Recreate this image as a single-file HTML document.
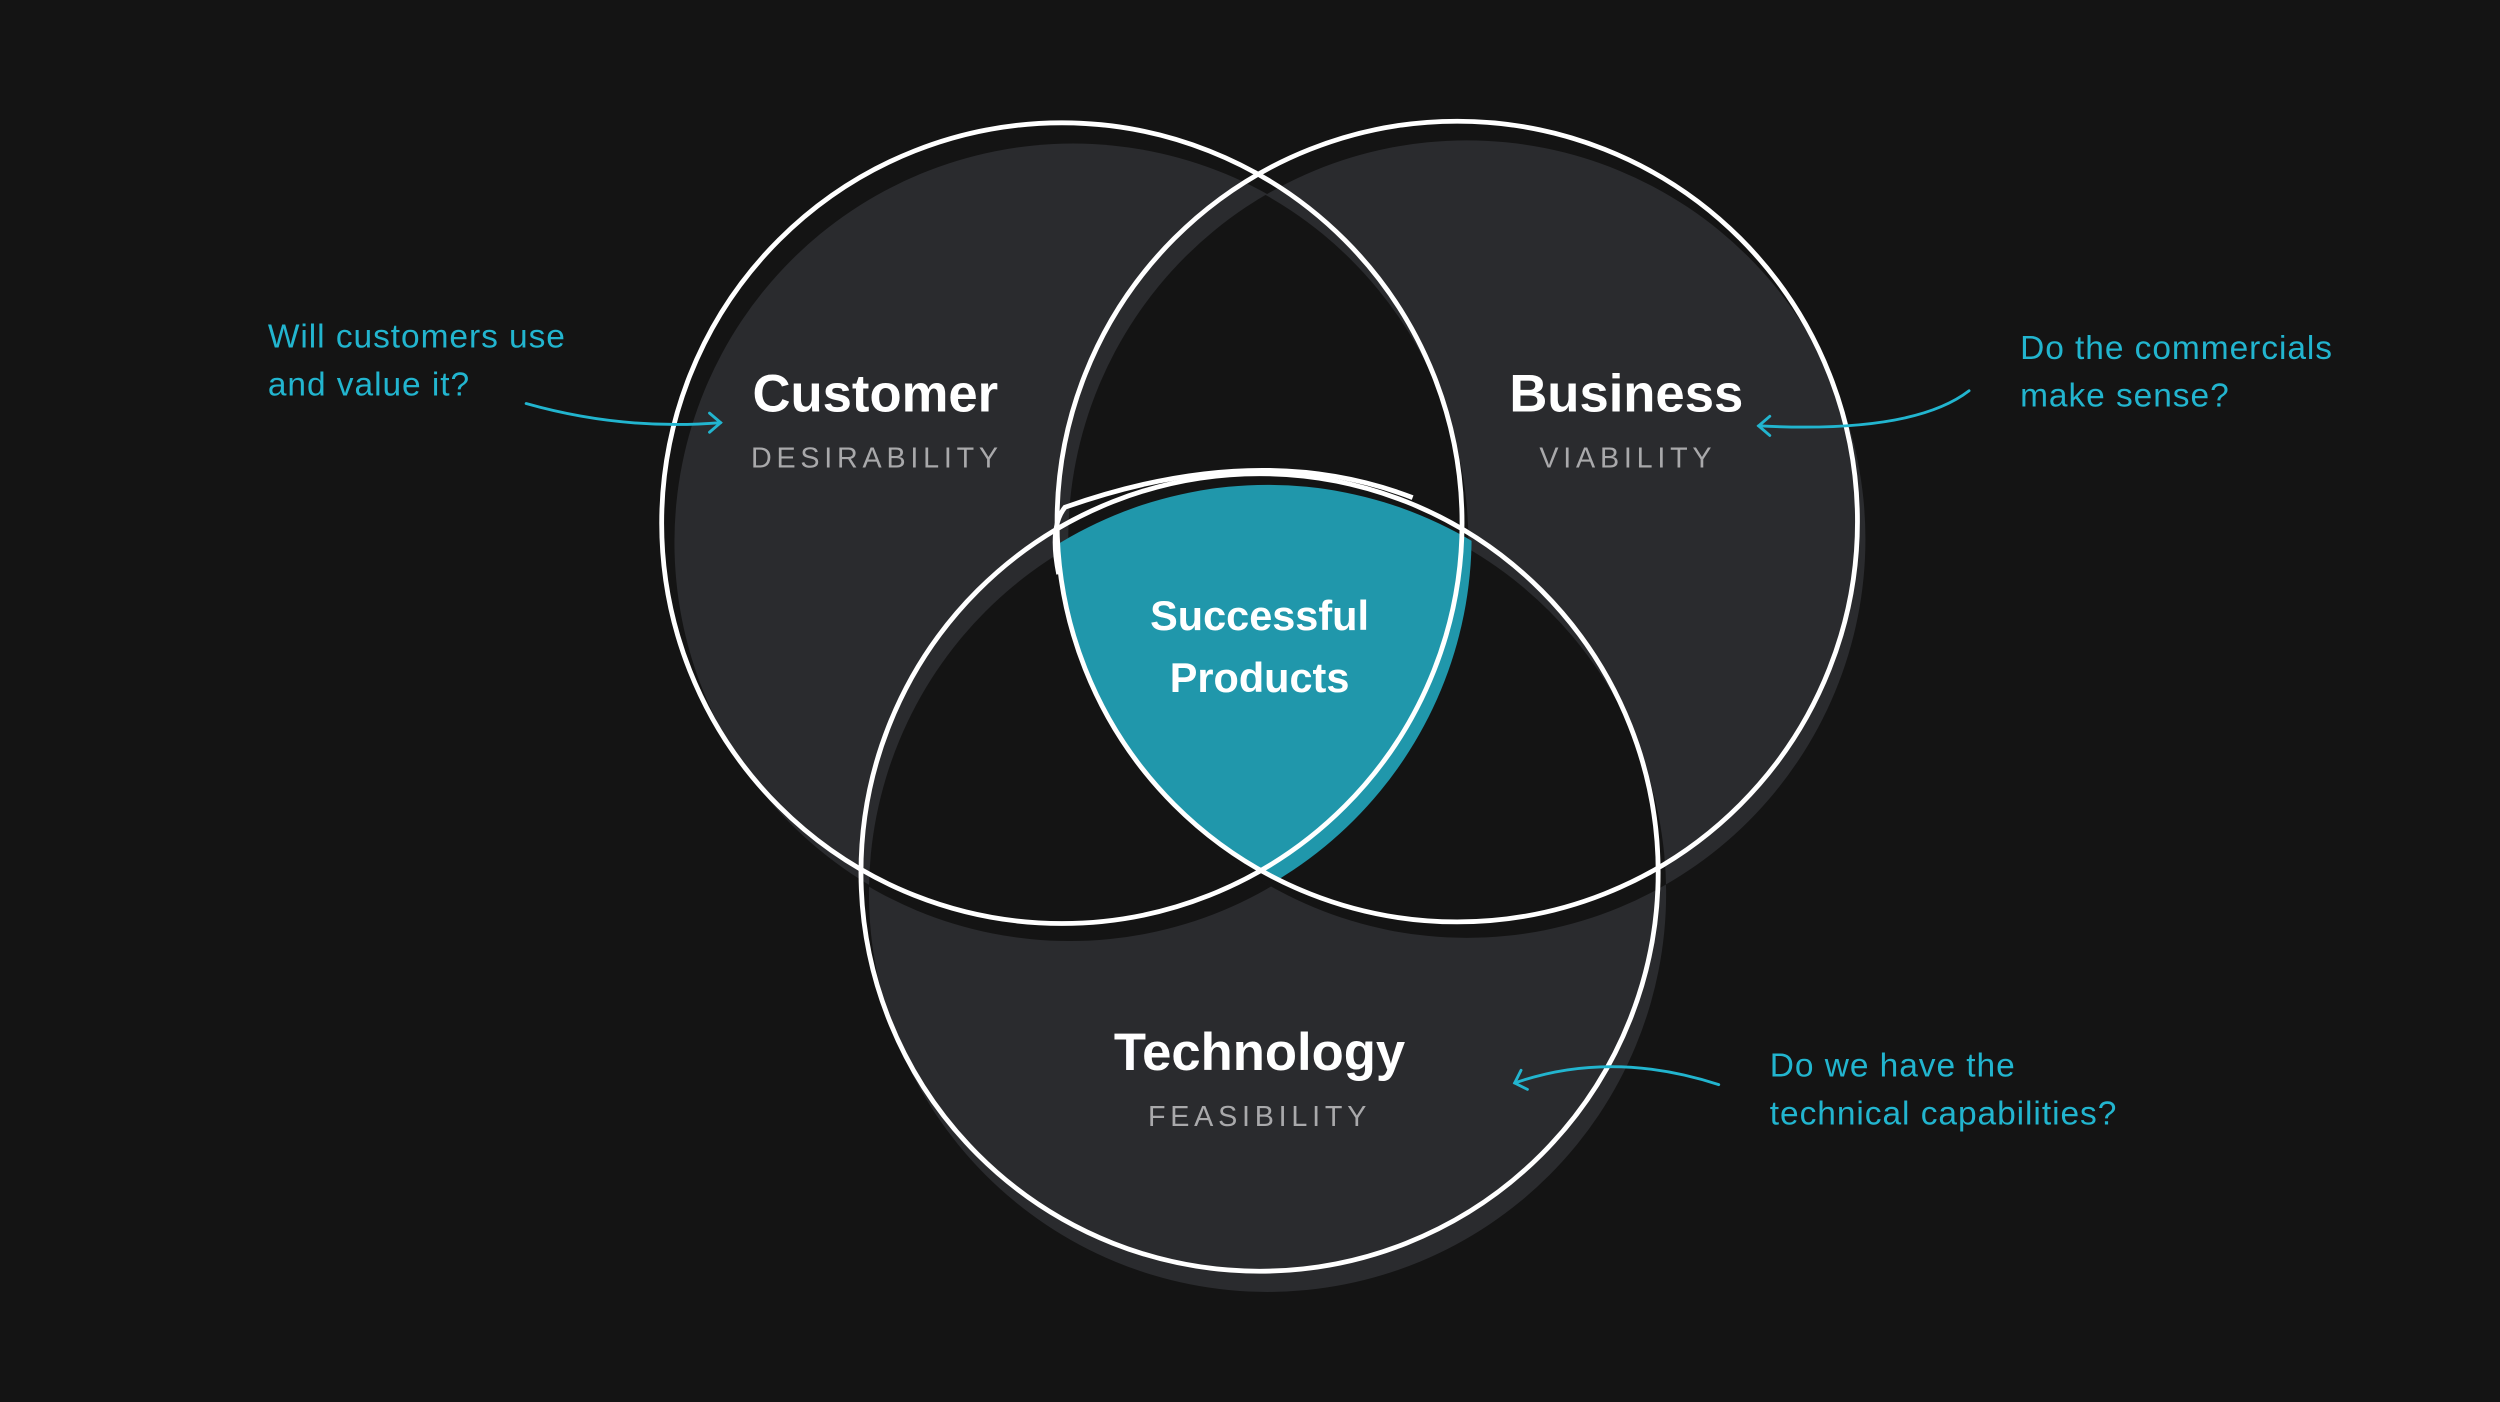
<!DOCTYPE html>
<html><head><meta charset="utf-8"><style>
html,body{margin:0;padding:0;background:#141414;}
svg{display:block}
</style></head><body>
<svg width="2500" height="1402" viewBox="0 0 1568 879" preserveAspectRatio="none" xmlns="http://www.w3.org/2000/svg">
<defs>
<clipPath id="cA"><circle cx="671" cy="340" r="250"/></clipPath>
<clipPath id="cB"><circle cx="920" cy="338" r="250"/></clipPath>
<clipPath id="cBB"><circle cx="914" cy="327" r="252"/></clipPath>
<clipPath id="cCC"><circle cx="666" cy="328" r="252"/></clipPath>
<clipPath id="cTT"><circle cx="795" cy="555" r="251"/></clipPath>
</defs>
<rect width="1568" height="879" fill="#141414"/>
<circle cx="673" cy="340" r="250" fill="#2a2b2e"/>
<circle cx="920" cy="338" r="250" fill="#2a2b2e"/>
<circle cx="795" cy="560" r="250" fill="#2a2b2e"/>
<g clip-path="url(#cA)"><circle cx="920" cy="338" r="250" fill="#141414"/><circle cx="795" cy="560" r="250" fill="#141414"/></g>
<g clip-path="url(#cB)"><circle cx="795" cy="560" r="250" fill="#141414"/></g>
<g clip-path="url(#cTT)"><g clip-path="url(#cBB)"><circle cx="666" cy="328" r="252" fill="#2097ab" transform="translate(5,8)"/></g></g>
<g fill="none" stroke="#ffffff" stroke-width="3">
<circle cx="666" cy="328" r="251"/>
<circle cx="914" cy="327" r="251"/>
<circle cx="790" cy="547" r="250"/>
<path d="M886 312 Q790 275 668 318 Q658 330 664 360"/>
</g>
<g font-family="Liberation Sans, sans-serif" text-anchor="middle">
<text x="549" y="258" font-size="33" font-weight="bold" fill="#fff">Customer</text>
<text x="550" y="293" font-size="18" fill="#a9a9ab" letter-spacing="3">DESIRABILITY</text>
<text x="1020" y="258" font-size="33" font-weight="bold" fill="#fff">Business</text>
<text x="1021" y="293" font-size="18" fill="#a9a9ab" letter-spacing="3">VIABILITY</text>
<text x="790" y="671" font-size="33" font-weight="bold" fill="#fff">Technology</text>
<text x="790" y="706" font-size="18" fill="#a9a9ab" letter-spacing="3">FEASIBILITY</text>
<text x="790" y="395" font-size="26" font-weight="bold" fill="#fff">Successful</text>
<text x="790" y="434" font-size="26" font-weight="bold" fill="#fff">Products</text>
</g>
<g font-family="Liberation Sans, sans-serif" font-size="21" fill="#22b5cf" letter-spacing="0.6">
<text x="168" y="218">Will customers use</text>
<text x="168" y="248">and value it?</text>
<text x="1267" y="225">Do the commercials</text>
<text x="1267" y="255">make sense?</text>
<text x="1110" y="675">Do we have the</text>
<text x="1110" y="705">technical capabilities?</text>
</g>
<g fill="none" stroke="#22b5cf" stroke-width="1.8" stroke-linecap="round">
<path d="M330 253 Q390 270 452 265"/><path d="M445 259 L452 265 L445 271"/>
<path d="M1235 245 Q1200 272 1103 267"/><path d="M1110 261 L1103 267 L1110 273"/>
<path d="M1078 680 Q1010 658 950 679"/><path d="M954 671 L950 679 L958 683"/>
</g>
</svg>
</body></html>
